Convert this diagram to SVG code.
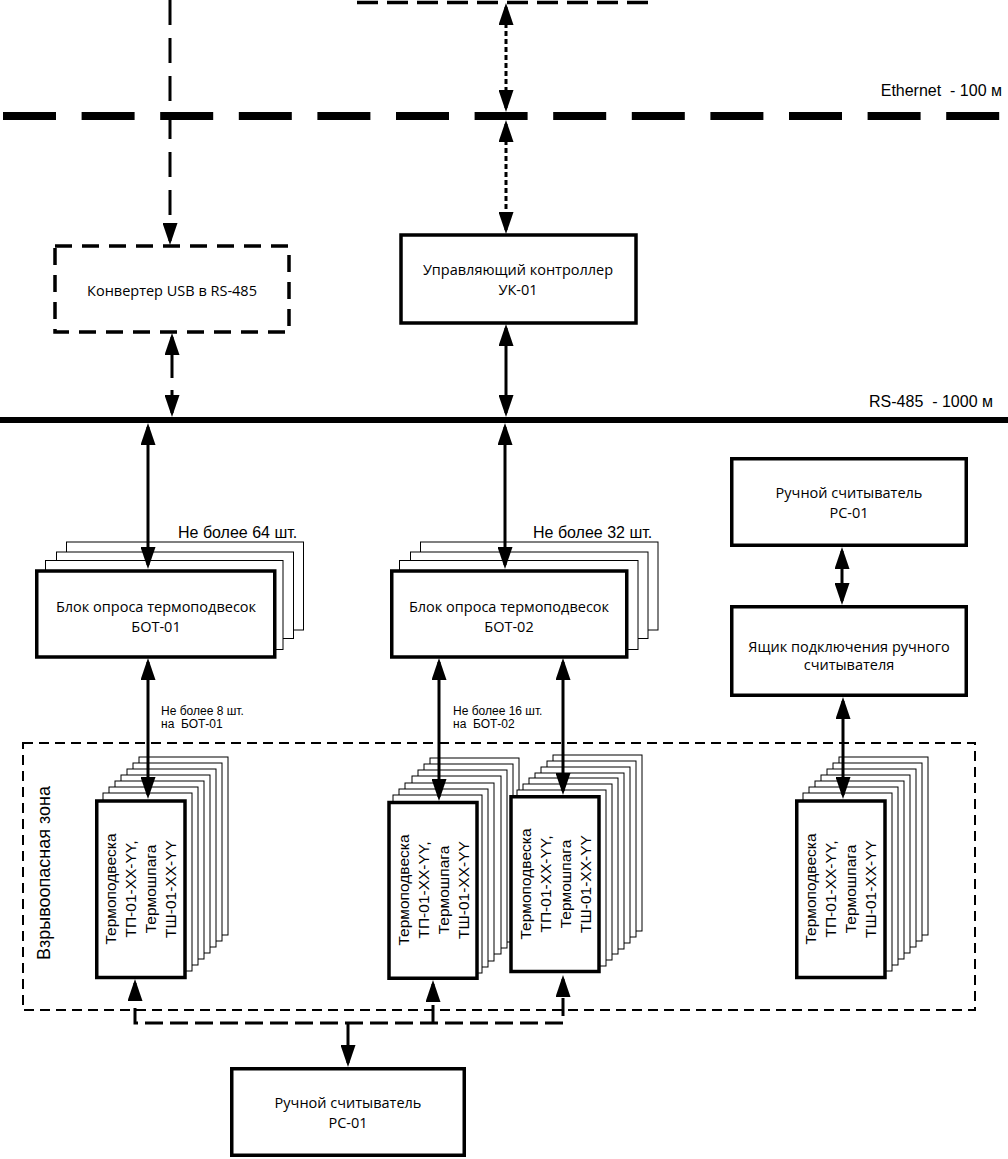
<svg xmlns="http://www.w3.org/2000/svg" width="1008" height="1159" viewBox="0 0 1008 1159">
<defs>
<style>
.bg{fill:#fff}
.box{fill:#fff;stroke:#000;stroke-width:3.5}
.lay{fill:#fff;stroke:#000;stroke-width:1}
.dbox{fill:#fff;stroke:#000;stroke-width:3.5;stroke-dasharray:17 10}
.zone{fill:none;stroke:#000;stroke-width:2;stroke-dasharray:10 6}
.c{fill:none;stroke:#000;stroke-width:3}
.dot{stroke-dasharray:5 3}
.t{font-family:"Open Sans","Noto Sans",sans-serif;font-size:14.5px;fill:#000;text-anchor:middle}
.a{font-family:"Liberation Sans",Arial,sans-serif;fill:#000}
.s{font-family:"Liberation Sans",Arial,sans-serif;font-size:15.5px;fill:#000;text-anchor:middle}
</style>
<marker id="ah" viewBox="0 0 22 15" refX="18" refY="7.5" markerWidth="22" markerHeight="15" markerUnits="userSpaceOnUse" orient="auto-start-reverse">
<path d="M0,0 L22,7.5 L0,15 z" fill="#000"/>
</marker>
<g id="tplStackBack">
</g>
</defs>
<rect class="bg" x="0" y="0" width="1008" height="1159"/>

<g id="networks">
<path d="M357,2.5 H650" stroke="#000" stroke-width="3.5" stroke-dasharray="21 9" fill="none"/>
<path d="M3,116 H1008" stroke="#000" stroke-width="8" stroke-dasharray="53 25.6" fill="none"/>
<text class="a" x="1002" y="96" font-size="16" text-anchor="end" xml:space="preserve">Ethernet  - 100 м</text>
<path d="M0,420 H1008" stroke="#000" stroke-width="6" fill="none"/>
<text class="a" x="993" y="407" font-size="16" text-anchor="end" xml:space="preserve">RS-485  - 1000 м</text>
</g>

<g id="hazard-zone">
<rect class="zone" x="23" y="743" width="952" height="267"/>
<text class="a" font-size="18" text-anchor="middle" transform="translate(50,873) rotate(-90)">Взрывоопасная зона</text>
</g>

<g id="converter">
<rect class="dbox" x="55" y="246" width="234" height="86"/>
<text class="t" x="172" y="296">Конвертер USB в RS-485</text>
</g>

<g id="uk01">
<rect class="box" x="401" y="235" width="235" height="88"/>
<text class="t" x="518" y="275">Управляющий контроллер</text>
<text class="t" x="518" y="295">УК-01</text>
</g>

<g id="bot01">
<rect class="lay" x="66.5" y="542" width="237" height="88"/>
<rect class="lay" x="56.5" y="552" width="237" height="86.5"/>
<rect class="lay" x="45.5" y="560.5" width="237.5" height="89"/>
<rect class="box" x="36.75" y="571" width="238" height="86"/>
<text class="t" x="156" y="612">Блок опроса термоподвесок</text>
<text class="t" x="156" y="632">БОТ-01</text>
</g>

<g id="bot02">
<rect class="lay" x="420.5" y="542" width="237.5" height="88"/>
<rect class="lay" x="410.5" y="552" width="237.5" height="86.5"/>
<rect class="lay" x="399.5" y="560.5" width="238.5" height="89"/>
<rect class="box" x="391.75" y="571" width="235" height="86"/>
<text class="t" x="509" y="612">Блок опроса термоподвесок</text>
<text class="t" x="509" y="632">БОТ-02</text>
</g>

<g id="rc01-top">
<rect class="box" x="731.75" y="458.75" width="234.5" height="86.5"/>
<text class="t" x="849" y="498">Ручной считыватель</text>
<text class="t" x="849" y="518">РС-01</text>
</g>

<g id="junction-box">
<rect class="box" x="731.75" y="606.75" width="234.5" height="88.5"/>
<text class="t" x="849" y="652">Ящик подключения ручного</text>
<text class="t" x="849" y="670">считывателя</text>
</g>

<g id="sensor1">
<rect class="lay" x="139" y="757" width="89" height="178"/>
<rect class="lay" x="133" y="763" width="89" height="178"/>
<rect class="lay" x="127" y="769" width="89" height="178"/>
<rect class="lay" x="121" y="775" width="89" height="178"/>
<rect class="lay" x="115" y="781" width="89" height="178"/>
<rect class="lay" x="109" y="787" width="89" height="178"/>
<rect class="lay" x="103" y="793" width="89" height="178"/>
<rect class="box" x="96.75" y="801" width="88.25" height="176.5"/>
<g class="s">
<text transform="translate(116,889) rotate(-90)">Термоподвеска</text>
<text transform="translate(136,889) rotate(-90)">ТП-01-XX-YY,</text>
<text transform="translate(156,889) rotate(-90)">Термошпага</text>
<text transform="translate(176,889) rotate(-90)">ТШ-01-XX-YY</text>
</g>
</g>

<g id="sensorA">
<rect class="lay" x="430" y="758" width="89" height="178"/>
<rect class="lay" x="424" y="764" width="89" height="178"/>
<rect class="lay" x="418" y="770" width="89" height="178"/>
<rect class="lay" x="412" y="776" width="89" height="178"/>
<rect class="lay" x="405" y="783" width="89" height="178"/>
<rect class="lay" x="399" y="789" width="89" height="178"/>
<rect class="lay" x="393" y="795" width="89" height="178"/>
<rect class="box" x="389" y="802.5" width="88" height="175.75"/>
<g class="s">
<text transform="translate(409,890) rotate(-90)">Термоподвеска</text>
<text transform="translate(429,890) rotate(-90)">ТП-01-XX-YY,</text>
<text transform="translate(449,890) rotate(-90)">Термошпага</text>
<text transform="translate(469,890) rotate(-90)">ТШ-01-XX-YY</text>
</g>
</g>

<g id="sensorB">
<rect class="lay" x="553" y="755" width="89" height="176"/>
<rect class="lay" x="547" y="761" width="89" height="176"/>
<rect class="lay" x="541" y="767" width="89" height="176"/>
<rect class="lay" x="535" y="773" width="89" height="176"/>
<rect class="lay" x="529" y="778" width="89" height="176"/>
<rect class="lay" x="523" y="784" width="89" height="176"/>
<rect class="lay" x="517" y="790" width="89" height="176"/>
<rect class="box" x="511" y="796.75" width="88" height="174.75"/>
<g class="s">
<text transform="translate(531,884) rotate(-90)">Термоподвеска</text>
<text transform="translate(551,884) rotate(-90)">ТП-01-XX-YY,</text>
<text transform="translate(571,884) rotate(-90)">Термошпага</text>
<text transform="translate(591,884) rotate(-90)">ТШ-01-XX-YY</text>
</g>
</g>

<g id="sensor4">
<rect class="lay" x="839" y="757" width="89" height="178"/>
<rect class="lay" x="833" y="763" width="89" height="178"/>
<rect class="lay" x="827" y="769" width="89" height="178"/>
<rect class="lay" x="821" y="775" width="89" height="178"/>
<rect class="lay" x="815" y="781" width="89" height="178"/>
<rect class="lay" x="809" y="787" width="89" height="178"/>
<rect class="lay" x="803" y="793" width="89" height="178"/>
<rect class="box" x="796.75" y="801" width="88.25" height="176.5"/>
<g class="s">
<text transform="translate(816,889) rotate(-90)">Термоподвеска</text>
<text transform="translate(836,889) rotate(-90)">ТП-01-XX-YY,</text>
<text transform="translate(856,889) rotate(-90)">Термошпага</text>
<text transform="translate(876,889) rotate(-90)">ТШ-01-XX-YY</text>
</g>
</g>

<g id="rc01-bottom">
<rect class="box" x="231.75" y="1068.75" width="232.5" height="86.5"/>
<text class="t" x="348" y="1108">Ручной считыватель</text>
<text class="t" x="348" y="1128">РС-01</text>
</g>

<g id="connectors">
<path class="c" d="M170,0 V241" stroke-width="3.5" stroke-dasharray="25 13" marker-end="url(#ah)"/>
<path class="c dot" d="M506,7 V108" marker-start="url(#ah)" marker-end="url(#ah)"/>
<path class="c dot" d="M506,124 V230" marker-start="url(#ah)" marker-end="url(#ah)"/>
<path class="c" d="M172,337 V413" stroke-dasharray="41 12" marker-start="url(#ah)" marker-end="url(#ah)"/>
<path class="c" d="M506,328 V413" marker-start="url(#ah)" marker-end="url(#ah)"/>
<path class="c" d="M148,427 V565" marker-start="url(#ah)" marker-end="url(#ah)"/>
<path class="c" d="M505,427 V565" marker-start="url(#ah)" marker-end="url(#ah)"/>
<path class="c" d="M148,662 V795" marker-start="url(#ah)" marker-end="url(#ah)"/>
<path class="c" d="M439,662 V797" marker-start="url(#ah)" marker-end="url(#ah)"/>
<path class="c" d="M563,662 V791" marker-start="url(#ah)" marker-end="url(#ah)"/>
<path class="c" d="M842,551 V601" marker-start="url(#ah)" marker-end="url(#ah)"/>
<path class="c" d="M843,701 V795" marker-start="url(#ah)" marker-end="url(#ah)"/>
<path class="c" d="M135,983 V1023 H563 V979" stroke-dasharray="18 7" marker-start="url(#ah)" marker-end="url(#ah)"/>
<path class="c" d="M433,1023 V984" stroke-dasharray="18 7" marker-end="url(#ah)"/>
<path class="c" d="M348,1023 V1063" marker-end="url(#ah)"/>
<text class="a" x="178" y="538" font-size="16">Не более 64 шт.</text>
<text class="a" x="533" y="538" font-size="16">Не более 32 шт.</text>
<text class="a" x="161" y="715" font-size="12">Не более 8 шт.</text>
<text class="a" x="161" y="728" font-size="12" xml:space="preserve">на  БОТ-01</text>
<text class="a" x="453" y="715" font-size="12">Не более 16 шт.</text>
<text class="a" x="453" y="728" font-size="12" xml:space="preserve">на  БОТ-02</text>
</g>
</svg>
